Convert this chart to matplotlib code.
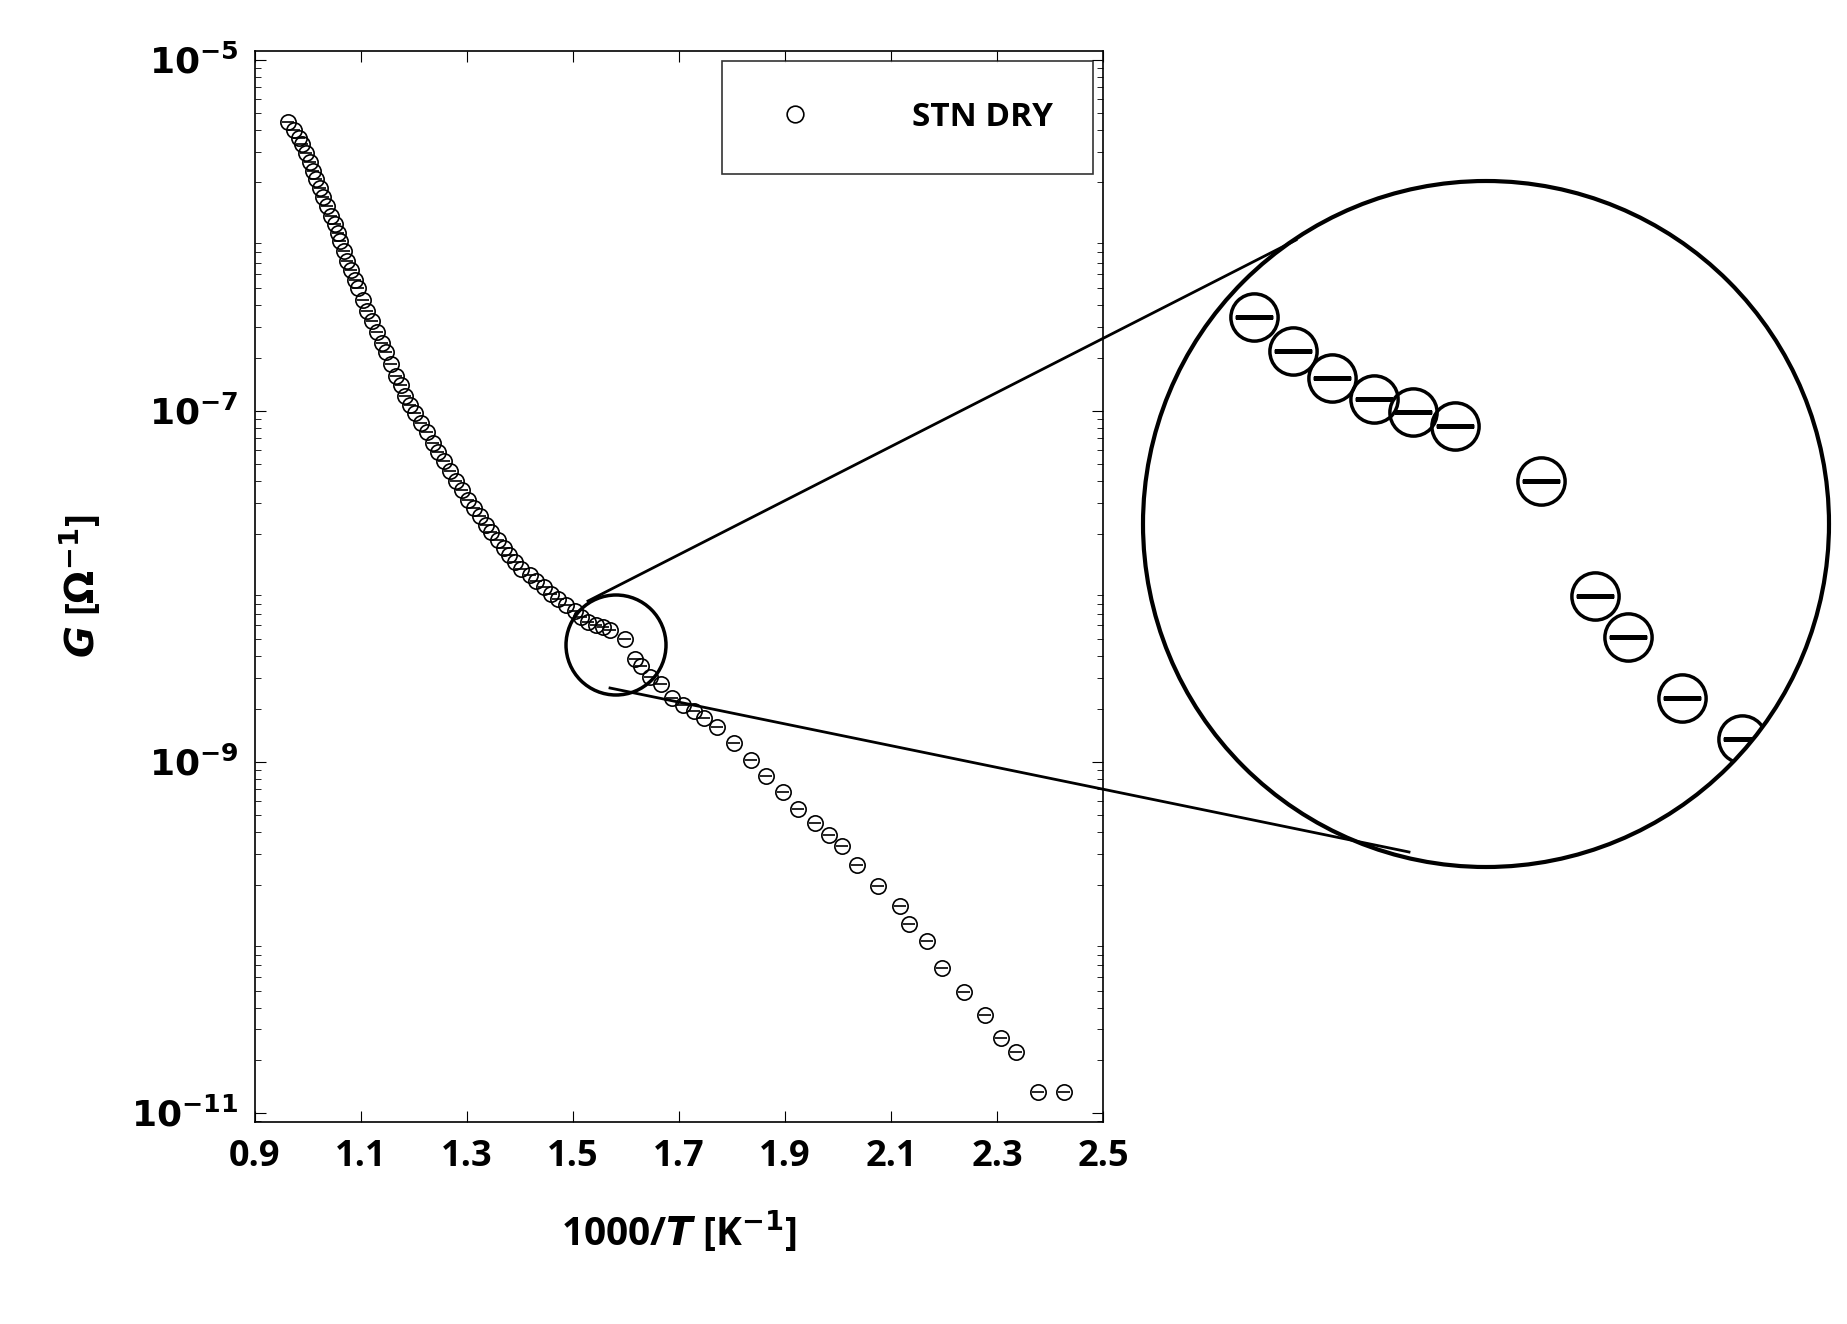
import numpy as np
import matplotlib
matplotlib.use("Agg")
import matplotlib.pyplot as plt
from matplotlib.patches import Circle, Ellipse
from matplotlib.lines import Line2D

x = [0.963,0.974,0.983,0.989,0.996,1.003,1.009,1.016,1.023,1.029,1.036,1.043,1.050,1.056,1.061,1.067,1.074,1.081,1.088,1.094,
     1.103,1.112,1.121,1.130,1.139,1.148,1.157,1.166,1.175,1.183,1.192,1.201,1.213,1.224,1.235,1.246,1.257,1.268,1.279,1.291,
     1.302,1.313,1.324,1.335,1.346,1.358,1.369,1.380,1.391,1.402,1.418,1.431,1.445,1.458,1.471,1.487,1.503,1.516,1.529,1.543,
     1.556,1.570,1.599,1.617,1.628,1.646,1.666,1.686,1.708,1.728,1.748,1.771,1.804,1.835,1.864,1.896,1.925,1.956,1.983,2.007,
     2.036,2.076,2.117,2.134,2.168,2.197,2.237,2.277,2.308,2.335,2.378,2.427]
logG = [-5.353,-5.400,-5.447,-5.480,-5.533,-5.580,-5.633,-5.680,-5.733,-5.780,-5.833,-5.887,-5.933,-5.987,-6.033,-6.087,-6.147,-6.200,-6.253,-6.300,
        -6.367,-6.433,-6.487,-6.553,-6.613,-6.667,-6.733,-6.800,-6.853,-6.913,-6.967,-7.013,-7.067,-7.120,-7.180,-7.233,-7.287,-7.340,-7.400,-7.453,
        -7.507,-7.553,-7.600,-7.647,-7.687,-7.733,-7.780,-7.820,-7.860,-7.900,-7.933,-7.967,-8.000,-8.040,-8.073,-8.107,-8.140,-8.173,-8.200,-8.220,
        -8.233,-8.247,-8.300,-8.413,-8.453,-8.513,-8.553,-8.633,-8.673,-8.707,-8.747,-8.800,-8.893,-8.987,-9.080,-9.173,-9.267,-9.347,-9.413,-9.480,
        -9.587,-9.707,-9.820,-9.920,-10.020,-10.173,-10.307,-10.440,-10.573,-10.653,-10.880,-10.880]
G = 10.0 ** np.array(logG)

plt.rcParams['font.family'] = ['Open Sans', 'DejaVu Sans']
plt.rcParams['font.weight'] = 'bold'
W, H = 1847, 1324
fig = plt.figure(figsize=(W/100, H/100), dpi=100)
ax = fig.add_axes([255/W, 1-1122/H, 848/W, 1071/H])

def draw(a, ms, mew):
    a.plot(x, G, ls='none', marker='o', mfc='none', mec='black', ms=ms, mew=mew, zorder=3)
    a.plot(x, G, ls='none', marker='_', mec='black', ms=ms*0.8, mew=mew, zorder=3)

draw(ax, 11, 1.2)
ax.set_yscale('log')
ax.set_xlim(0.9, 2.5)
ax.set_ylim(10**-11.05, 10**-4.95)
ax.set_xticks([0.9,1.1,1.3,1.5,1.7,1.9,2.1,2.3,2.5])
ax.set_xticklabels(['0.9','1.1','1.3','1.5','1.7','1.9','2.1','2.3','2.5'])
ax.set_yticks([1e-5,1e-7,1e-9,1e-11])
ax.set_yticklabels([r'$\mathbf{10^{-5}}$', r'$\mathbf{10^{-7}}$', r'$\mathbf{10^{-9}}$', r'$\mathbf{10^{-11}}$'])
ax.tick_params(direction='in', labelsize=26, length=8, top=True, right=True, pad=12)
ax.tick_params(which='minor', direction='in', length=4, top=True, right=True)
for s in ax.spines.values():
    s.set_linewidth(1.2)
ax.set_xlabel(r'1000/$\mathbfit{T}$ [K$^{\mathbf{-1}}$]', fontsize=28, fontweight='bold', labelpad=25)
ax.set_ylabel(r'$\mathbfit{G}$ [$\mathbf{\Omega^{-1}}$]', fontsize=28, fontweight='bold', labelpad=20)
h = Line2D([], [], ls='none', marker='o', mfc='none', mec='black', ms=12, mew=1.2)
leg = ax.legend([h], ['STN DRY'], loc='upper right', fontsize=24, frameon=True, fancybox=False,
                edgecolor='black', borderpad=1.2, handletextpad=2.5, borderaxespad=0.3)
leg.get_frame().set_linewidth(1.2)

# small circle in main axes (figure pixel coords)
cx, cy, r = 616, H-645, 50
fig.patches.append(Ellipse((cx/W, cy/H), 2*r/W, 2*r/H, transform=fig.transFigure, fill=False, lw=2.5, ec='black'))
# big inset
bx, by, R = 1486, H-524, 343
ins = fig.add_axes([(bx-R)/W, (by-R)/H, 2*R/W, 2*R/H])
draw(ins, 34, 2.5)
ins.set_yscale('log')
ins.set_xlim(1.466, 1.695)
ins.set_ylim(10**-8.678, 10**-8.007)
ins.axis('off')
clipc = Circle((0.5, 0.5), 0.5, transform=ins.transAxes, fill=False, lw=0)
ins.add_patch(clipc)
for art in ins.lines:
    art.set_clip_path(clipc)
circ = Circle((0.5, 0.5), 0.5, transform=ins.transAxes, fill=False, lw=3, ec='black', clip_on=False)
ins.add_patch(circ)
# connecting lines
for (x1, y1), (x2, y2) in [((588, 601), (1296, 240)), ((610, 688), (1409, 852))]:
    fig.lines.append(Line2D([x1/W, x2/W], [1-y1/H, 1-y2/H], transform=fig.transFigure, color='black', lw=2))

fig.savefig('out.png', dpi=100)
